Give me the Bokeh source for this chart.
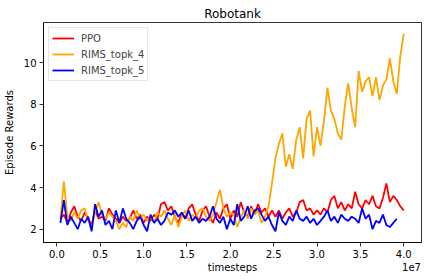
from bokeh.plotting import figure
from bokeh.models import Range1d, FixedTicker, Legend, LegendItem, LinearAxis
from bokeh.embed import file_html
from bokeh.resources import INLINE

# timesteps (in units of 1e7), sampled every 0.04e7
steps_scale = 1e7
timesteps = [round(0.04 * (i + 1), 2) for i in range(100)]

ppo = [2.5, 2.7, 2.3, 2.8, 3.1, 2.6, 2.4, 2.8, 2.5, 2.2,
       2.9, 2.5, 2.6, 2.4, 3.0, 2.7, 2.5, 2.3, 2.6, 2.4,
       2.5, 2.9, 2.5, 2.7, 2.3, 2.6, 2.4, 2.7, 2.5, 3.2,
       3.3, 2.9, 3.1, 2.6, 2.3, 2.8, 2.5, 3.0, 3.2, 2.7,
       2.4, 2.9, 3.1, 2.6, 2.3, 2.8, 2.5, 3.0, 3.2, 2.5,
       2.9, 2.6, 3.3, 2.8, 2.6, 3.1, 2.7, 3.2, 2.8, 3.0,
       2.6, 2.9, 2.6, 2.9, 2.5, 2.8, 3.0, 2.6, 2.8, 3.3,
       3.4, 2.9, 3.0, 2.7, 2.9, 2.7, 3.0, 2.8, 3.4, 3.6,
       3.0, 3.3, 2.9, 3.2, 3.0, 3.8, 3.2, 3.0, 3.4, 3.2,
       3.6, 3.1, 3.0, 3.5, 4.2, 3.3, 3.6, 3.4, 3.1, 2.9]

rims4 = [2.5, 4.3, 2.6, 2.4, 2.8, 2.5, 2.9, 3.0, 2.4, 2.1,
         2.8, 3.3, 2.7, 2.5, 2.8, 2.6, 2.4, 2.0, 2.3, 2.1,
         2.6, 2.4, 2.9, 2.5, 2.7, 2.4, 2.6, 2.3, 2.8, 2.6,
         2.9, 2.5, 2.2, 2.7, 2.1, 2.6, 2.9, 2.4, 2.7, 2.5,
         2.9, 3.0, 2.6, 2.4, 2.7, 3.3, 3.9, 3.0, 2.6, 2.8,
         2.7, 2.1, 2.6, 2.9, 2.5, 3.0, 2.7, 2.9, 2.3, 2.6,
         3.1, 4.2, 5.4, 6.1, 6.6, 5.0, 5.6, 4.9, 6.3, 6.9,
         5.4, 7.3, 7.7, 5.5, 6.9, 6.0, 7.2, 8.8, 7.7, 7.3,
         6.6, 6.3, 7.9, 9.0, 7.8, 6.9, 9.6, 8.6, 9.1, 9.3,
         8.4, 9.3, 8.2, 8.9, 9.2, 10.2, 9.1, 8.5, 10.3, 11.4]

rims5 = [2.3, 3.4, 2.2, 2.6, 2.3, 2.0, 2.5, 2.3, 2.6, 1.9,
         3.2, 2.6, 2.9, 2.2, 2.4, 2.0, 2.9, 2.3, 3.0, 2.5,
         2.3, 2.0, 2.4, 2.6, 2.2, 1.9, 2.7, 2.3, 2.5, 2.2,
         2.4, 2.8, 2.7, 2.9, 2.6, 2.8, 2.5, 2.9, 2.4, 2.6,
         2.3, 2.5, 2.4, 2.6, 3.1, 2.5, 2.3, 2.6, 2.0, 2.5,
         2.2, 3.2, 2.4, 2.6, 3.1, 2.5, 2.9, 3.0, 2.7, 2.4,
         2.6, 2.2, 1.9, 2.8, 2.4, 2.2, 2.6, 2.4, 2.9, 2.5,
         2.4, 2.6, 2.3, 2.5, 2.2, 2.4, 2.6, 2.9, 2.4, 2.6,
         2.3, 2.7, 2.5, 2.4, 2.6, 2.5, 2.3, 3.0, 2.5, 2.7,
         2.0, 2.4, 2.3, 2.7, 2.2, 2.1, 2.3, 2.5]

x_ticks = [0.0, 0.5, 1.0, 1.5, 2.0, 2.5, 3.0, 3.5, 4.0]
y_ticks = [2, 4, 6, 8, 10]

FONT = "DejaVu Sans"
X0, X1 = -0.155 * steps_scale, 4.205 * steps_scale
Y0, Y1 = 1.36, 11.93

p = figure(output_backend="svg", toolbar_location=None,
           frame_width=378, frame_height=220,
           min_border_left=33, min_border_right=5,
           min_border_top=22, min_border_bottom=30,
           x_range=Range1d(X0, X1), y_range=Range1d(Y0, Y1),
           title="Robotank")

p.title.text_font = FONT
p.title.text_font_size = "12px"
p.title.text_font_style = "normal"
p.title.align = "center"
p.title.vertical_align = "bottom"
p.title.text_color = "black"
p.title.standoff = 3

xs = [t * steps_scale for t in timesteps]
r1 = p.line(xs[:len(ppo)], ppo, line_color="red", line_width=1.8)
r2 = p.line(xs[:len(rims4)], rims4, line_color="orange", line_width=1.8)
r3 = p.line(xs[:len(rims5)], rims5, line_color="blue", line_width=1.8)

p.grid.visible = False
p.outline_line_color = "black"
p.outline_line_width = 0.8
p.outline_line_alpha = 1

for ax in (p.xaxis[0], p.yaxis[0]):
    ax.axis_line_color = "black"
    ax.axis_line_width = 0.8
    ax.major_tick_line_color = "black"
    ax.major_tick_line_width = 0.8
    ax.major_tick_out = 4
    ax.major_tick_in = 0
    ax.minor_tick_line_color = None
    ax.major_label_text_font = FONT
    ax.major_label_text_font_size = "10px"
    ax.major_label_text_color = "black"
    ax.axis_label_text_font = FONT
    ax.axis_label_text_font_size = "10px"
    ax.axis_label_text_font_style = "normal"
    ax.axis_label_text_color = "black"
    ax.major_label_standoff = 3

p.xaxis.ticker = FixedTicker(ticks=[t * steps_scale for t in x_ticks])
p.xaxis.major_label_overrides = {t * steps_scale: f"{t:.1f}" for t in x_ticks}
p.yaxis.ticker = FixedTicker(ticks=y_ticks)
p.yaxis.axis_label = "Episode Rewards"
p.yaxis.axis_label_standoff = 6

# second row under the tick labels: axis title and the 1e7 offset text
label_pos = [2.025 * steps_scale, 4.09 * steps_scale]
label_txt = ["timesteps", "1e7"]
ax2 = LinearAxis(ticker=FixedTicker(ticks=label_pos),
                 major_label_overrides=dict(zip(label_pos, label_txt)),
                 axis_line_color=None, major_tick_line_color=None,
                 major_tick_out=0, major_tick_in=0,
                 minor_tick_line_color=None, minor_tick_out=0,
                 major_label_standoff=1,
                 major_label_text_font=FONT, major_label_text_font_size="10px",
                 major_label_text_color="black")
p.add_layout(ax2, "below")

legend = Legend(items=[LegendItem(label="PPO", renderers=[r1]),
                       LegendItem(label="RIMS_topk_4", renderers=[r2]),
                       LegendItem(label="RIMS_topk_5", renderers=[r3])],
                location="top_left", margin=5, padding=3, spacing=2,
                glyph_width=22, glyph_height=14, label_standoff=7,
                label_text_font=FONT, label_text_font_size="10px",
                border_line_color="#cccccc", border_line_width=1,
                background_fill_alpha=0.8)
p.add_layout(legend)

open("out.html", "w").write(file_html(p, INLINE))
